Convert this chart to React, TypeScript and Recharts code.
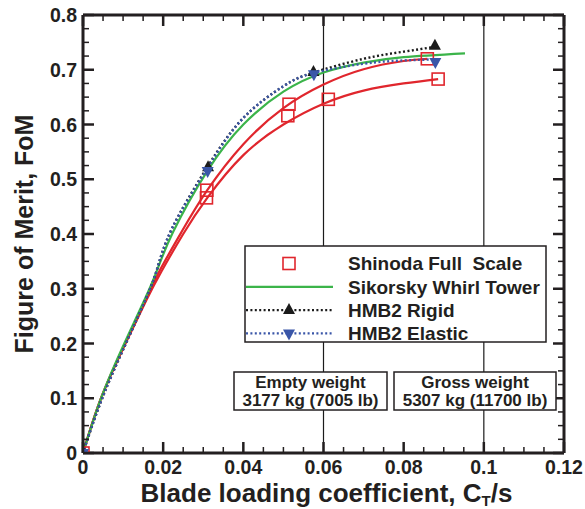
import React from 'react';
import { ComposedChart, Line, Scatter, XAxis, YAxis, ReferenceLine } from 'recharts';

const RED = '#e0262d';
const GREEN = '#3bb44a';
const BLACK = '#1b1b1b';
const BLUE = '#3a56a8';
const AXIS = '#231f20';
const FONT = '"Liberation Sans", Arial, Helvetica, sans-serif';

// measured points
const shinodaPoints = [
  { x: 0, y: 0 },
  { x: 0.0308, y: 0.466 },
  { x: 0.0309, y: 0.48 },
  { x: 0.0511, y: 0.616 },
  { x: 0.0514, y: 0.637 },
  { x: 0.0612, y: 0.646 },
  { x: 0.0859, y: 0.72 },
  { x: 0.0886, y: 0.683 },
];
const rigidPoints = [
  { x: 0, y: 0 },
  { x: 0.0312, y: 0.522 },
  { x: 0.0575, y: 0.696 },
  { x: 0.0878, y: 0.744 },
];
const elasticPoints = [
  { x: 0, y: 0 },
  { x: 0.0311, y: 0.515 },
  { x: 0.0576, y: 0.692 },
  { x: 0.0879, y: 0.714 },
];

// curves
const shinodaUpper = [
  { x: 0, y: 0 }, { x: 0.0045, y: 0.1 }, { x: 0.0105, y: 0.2 }, { x: 0.0156, y: 0.279 },
  { x: 0.0192, y: 0.334 }, { x: 0.0246, y: 0.404 }, { x: 0.031, y: 0.48 }, { x: 0.04, y: 0.564 },
  { x: 0.05, y: 0.63 }, { x: 0.06, y: 0.673 }, { x: 0.07, y: 0.701 }, { x: 0.08, y: 0.716 },
  { x: 0.0859, y: 0.72 },
];
const shinodaLower = [
  { x: 0, y: 0 }, { x: 0.0045, y: 0.1 }, { x: 0.0106, y: 0.2 }, { x: 0.0158, y: 0.279 },
  { x: 0.0196, y: 0.332 }, { x: 0.025, y: 0.4 }, { x: 0.031, y: 0.466 }, { x: 0.04, y: 0.544 },
  { x: 0.05, y: 0.6 }, { x: 0.06, y: 0.638 }, { x: 0.07, y: 0.662 }, { x: 0.08, y: 0.675 },
  { x: 0.0886, y: 0.683 },
];
const whirlTower = [
  { x: 0, y: 0 }, { x: 0.0045, y: 0.1 }, { x: 0.0103, y: 0.2 }, { x: 0.0153, y: 0.279 },
  { x: 0.0185, y: 0.334 }, { x: 0.0225, y: 0.404 }, { x: 0.031, y: 0.515 }, { x: 0.04, y: 0.6 },
  { x: 0.05, y: 0.66 }, { x: 0.06, y: 0.695 }, { x: 0.07, y: 0.713 }, { x: 0.08, y: 0.723 },
  { x: 0.0953, y: 0.73 },
];
const rigidCurve = [
  { x: 0, y: 0 }, { x: 0.0048, y: 0.1 }, { x: 0.0107, y: 0.2 }, { x: 0.0156, y: 0.28 },
  { x: 0.0184, y: 0.334 }, { x: 0.0222, y: 0.41 }, { x: 0.031, y: 0.522 }, { x: 0.04, y: 0.612 },
  { x: 0.05, y: 0.67 }, { x: 0.0575, y: 0.695 }, { x: 0.07, y: 0.72 }, { x: 0.08, y: 0.733 },
  { x: 0.0878, y: 0.742 },
];
const elasticCurve = [
  { x: 0, y: 0 }, { x: 0.0048, y: 0.1 }, { x: 0.0107, y: 0.2 }, { x: 0.0156, y: 0.28 },
  { x: 0.0184, y: 0.334 }, { x: 0.0222, y: 0.41 }, { x: 0.031, y: 0.52 }, { x: 0.04, y: 0.612 },
  { x: 0.05, y: 0.67 }, { x: 0.0575, y: 0.694 }, { x: 0.07, y: 0.711 }, { x: 0.08, y: 0.717 },
  { x: 0.0878, y: 0.719 },
];

const xTicks = Array.from({ length: 25 }, (_, i) => +(i * 0.005).toFixed(3));
const yTicks = Array.from({ length: 33 }, (_, i) => +(i * 0.025).toFixed(3));

const legendItems = [
  { label: 'Shinoda Full  Scale', kind: 'square' },
  { label: 'Sikorsky Whirl Tower', kind: 'line' },
  { label: 'HMB2 Rigid', kind: 'up' },
  { label: 'HMB2 Elastic', kind: 'down' },
];

const weightBoxes = [
  { x: 234, w: 153, lines: ['Empty weight', '3177 kg (7005 lb)'] },
  { x: 394, w: 162, lines: ['Gross weight', '5307 kg (11700 lb)'] },
];

const isMajor = (v: number, step: number) => Math.abs(v / step - Math.round(v / step)) < 1e-6;
const labelStyle = { fontFamily: FONT, fontWeight: 700, fontSize: 19.5, fill: '#231f20' };

const BottomTick = ({ x, y, payload }: any) => {
  const major = isMajor(payload.value, 0.02);
  return (
    <g>
      <line x1={x} x2={x} y1={y} y2={y - (major ? 11 : 6)} stroke={AXIS} strokeWidth={major ? 2.5 : 1.5} />
      {major && (
        <text x={x} y={y + 20.5} textAnchor="middle" {...labelStyle}>
          {String(payload.value)}
        </text>
      )}
    </g>
  );
};
const TopTick = ({ x, y, payload }: any) => {
  const major = isMajor(payload.value, 0.02);
  return <line x1={x} x2={x} y1={y} y2={y + (major ? 11 : 6)} stroke={AXIS} strokeWidth={major ? 2.5 : 1.5} />;
};
const LeftTick = ({ x, y, payload }: any) => {
  const major = isMajor(payload.value, 0.1);
  return (
    <g>
      <line x1={x} x2={x + (major ? 11 : 6)} y1={y} y2={y} stroke={AXIS} strokeWidth={major ? 2.5 : 1.5} />
      {major && (
        <text x={x - 6} y={y + 7} textAnchor="end" {...labelStyle}>
          {String(payload.value)}
        </text>
      )}
    </g>
  );
};
const RightTick = ({ x, y, payload }: any) => {
  const major = isMajor(payload.value, 0.1);
  return <line x1={x} x2={x - (major ? 11 : 6)} y1={y} y2={y} stroke={AXIS} strokeWidth={major ? 2.5 : 1.5} />;
};

const XTitle = ({ viewBox }: any) => (
  <text x={viewBox.x + viewBox.width / 2 + 3} y={viewBox.y + 49} textAnchor="middle" fontFamily={FONT} fontWeight={700} fontSize={26} fill="#231f20">
    <tspan>Blade loading coefficient, C</tspan>
    <tspan fontSize={15} dy={4}>T</tspan>
    <tspan dy={-4}>/s</tspan>
  </text>
);
const YTitle = ({ viewBox }: any) => {
  const cx = 33;
  const cy = viewBox.y + viewBox.height / 2;
  return (
    <text x={cx} y={cy} transform={`rotate(-90, ${cx}, ${cy})`} textAnchor="middle" fontFamily={FONT} fontWeight={700} fontSize={25} fill="#231f20">
      Figure of Merit, FoM
    </text>
  );
};

const SquareMark = ({ cx, cy }: any) => (
  <rect x={cx - 6} y={cy - 6} width={12} height={12} fill="none" stroke={RED} strokeWidth={1.6} />
);
const UpMark = ({ cx, cy }: any) => (
  <polygon points={`${cx},${cy - 7} ${cx + 6},${cy + 4} ${cx - 6},${cy + 4}`} fill={BLACK} />
);
const DownMark = ({ cx, cy }: any) => (
  <polygon points={`${cx},${cy + 7} ${cx + 6},${cy - 4} ${cx - 6},${cy - 4}`} fill={BLUE} />
);

function LegendSymbol({ kind, cy }: { kind: string; cy: number }) {
  const cx = 289;
  if (kind === 'square') return <SquareMark cx={cx} cy={cy} />;
  if (kind === 'line') return <line x1={246} x2={333} y1={cy} y2={cy} stroke={GREEN} strokeWidth={2.2} />;
  const color = kind === 'up' ? BLACK : BLUE;
  return (
    <g>
      <line x1={246} x2={333} y1={cy} y2={cy} stroke={color} strokeWidth={2.2} strokeDasharray="2 2.4" />
      {kind === 'up' ? <UpMark cx={cx} cy={cy} /> : <DownMark cx={cx} cy={cy} />}
    </g>
  );
}

function Overlay() {
  const boxTop = 246;
  return (
    <svg width={585} height={509} style={{ position: 'absolute', left: 0, top: 0, pointerEvents: 'none' }}>
      <rect x={245} y={boxTop} width={301} height={96} fill="#fff" stroke={AXIS} strokeWidth={1.5} />
      <clipPath id="legclip">
        <rect x={245} y={boxTop} width={301} height={96} />
      </clipPath>
      {legendItems.map((item, i) => {
        const cy = boxTop + 17.5 + i * 23.3;
        return (
          <g key={item.label}>
            <LegendSymbol kind={item.kind} cy={cy} />
            <text x={348} y={cy + 6.8} clipPath="url(#legclip)" fontFamily={FONT} fontWeight={700} fontSize={19} fill="#231f20" style={{ whiteSpace: 'pre' }}>
              {item.label}
            </text>
          </g>
        );
      })}
      {weightBoxes.map((b) => (
        <g key={b.lines[0]}>
          <rect x={b.x} y={372} width={b.w} height={38} fill="#fff" stroke={AXIS} strokeWidth={1.5} />
          {b.lines.map((t, j) => (
            <text key={t} x={b.x + b.w / 2} y={388.3 + j * 17.4} textAnchor="middle" fontFamily={FONT} fontWeight={700} fontSize={17} fill="#231f20">
              {t}
            </text>
          ))}
        </g>
      ))}
    </svg>
  );
}

export default function App() {
  return (
    <div style={{ position: 'absolute', left: 0, top: 0, width: 585, height: 509, background: '#fff' }}>
      <ComposedChart width={585} height={509} margin={{ top: 14, right: 20, bottom: 0, left: 0 }}>
        <XAxis
          xAxisId="b"
          dataKey="x"
          type="number"
          domain={[0, 0.12]}
          allowDataOverflow
          ticks={xTicks}
          interval={0}
          height={56}
          tickSize={0}
          tickMargin={0}
          tick={<BottomTick />}
          tickLine={false}
          axisLine={{ stroke: AXIS, strokeWidth: 3 }}
          label={<XTitle />}
        />
        <XAxis
          xAxisId="t"
          orientation="top"
          dataKey="x"
          type="number"
          domain={[0, 0.12]}
          allowDataOverflow
          ticks={xTicks}
          interval={0}
          height={1}
          tickSize={0}
          tickMargin={0}
          tick={<TopTick />}
          tickLine={false}
          axisLine={{ stroke: AXIS, strokeWidth: 3 }}
        />
        <YAxis
          yAxisId="l"
          dataKey="y"
          type="number"
          domain={[0, 0.8]}
          allowDataOverflow
          ticks={yTicks}
          interval={0}
          width={83}
          tickSize={0}
          tickMargin={0}
          tick={<LeftTick />}
          tickLine={false}
          axisLine={{ stroke: AXIS, strokeWidth: 3 }}
          label={<YTitle />}
        />
        <YAxis
          yAxisId="r"
          orientation="right"
          dataKey="y"
          type="number"
          domain={[0, 0.8]}
          allowDataOverflow
          ticks={yTicks}
          interval={0}
          width={1}
          tickSize={0}
          tickMargin={0}
          tick={<RightTick />}
          tickLine={false}
          axisLine={{ stroke: AXIS, strokeWidth: 3 }}
        />
        <ReferenceLine xAxisId="b" yAxisId="l" x={0.06} stroke={BLACK} strokeWidth={1.2} />
        <ReferenceLine xAxisId="b" yAxisId="l" x={0.1} stroke={BLACK} strokeWidth={1.2} />
        <Line xAxisId="b" yAxisId="l" data={shinodaUpper} dataKey="y" type="natural" stroke={RED} strokeWidth={2.2} dot={false} isAnimationActive={false} />
        <Line xAxisId="b" yAxisId="l" data={shinodaLower} dataKey="y" type="natural" stroke={RED} strokeWidth={2.2} dot={false} isAnimationActive={false} />
        <Line xAxisId="b" yAxisId="l" data={whirlTower} dataKey="y" type="natural" stroke={GREEN} strokeWidth={2.2} dot={false} isAnimationActive={false} />
        <Line xAxisId="b" yAxisId="l" data={rigidCurve} dataKey="y" type="natural" stroke={BLACK} strokeWidth={2.4} strokeDasharray="2 2.4" dot={false} isAnimationActive={false} />
        <Line xAxisId="b" yAxisId="l" data={elasticCurve} dataKey="y" type="natural" stroke={BLUE} strokeWidth={2.4} strokeDasharray="2 2.4" dot={false} isAnimationActive={false} />
        <Scatter xAxisId="b" yAxisId="l" data={shinodaPoints} shape={<SquareMark />} isAnimationActive={false} />
        <Scatter xAxisId="b" yAxisId="l" data={rigidPoints} shape={<UpMark />} isAnimationActive={false} />
        <Scatter xAxisId="b" yAxisId="l" data={elasticPoints} shape={<DownMark />} isAnimationActive={false} />
      </ComposedChart>
      <Overlay />
    </div>
  );
}
